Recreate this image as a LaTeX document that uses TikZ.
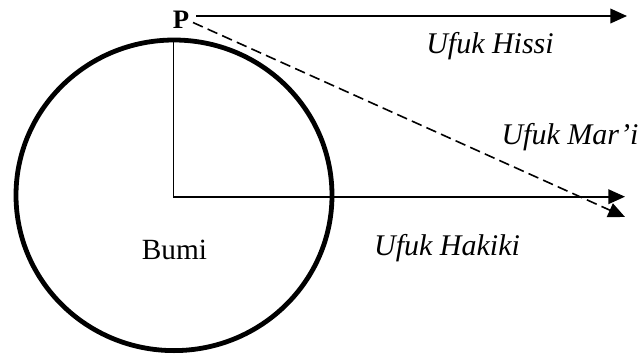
\documentclass[tikz,border=0pt]{standalone}
\usepackage{fontspec}
\setmainfont{Liberation Serif}
\usetikzlibrary{arrows.meta}
\begin{document}
\begin{tikzpicture}[x=0.75pt,y=-0.75pt,
  thinline/.style={line width=1.2pt},
  tip/.style={-{Triangle[length=12.5pt,width=11pt]}},
  lbl/.style={font=\fontsize{22.5}{24}\selectfont\itshape, inner sep=0pt},
]
\useasboundingbox (0,0) rectangle (640,354);
% Earth
\draw[line width=3.6pt] (174,195.3) ellipse [x radius=158, y radius=155.3];
\node[font=\fontsize{22}{24}\selectfont, inner sep=0pt] (bumi) at (174.5,250) {Bumi};
% points
\coordinate (O) at (173.3,196.7);
\coordinate (T) at (173.3,40);
\coordinate (HK) at (625,196.7);
\node[font=\fontsize{20}{22}\selectfont\bfseries, inner sep=0pt] (P) at (181,20) {P};
\coordinate (HSs) at (196,16);
\coordinate (HSe) at (627,16);
\coordinate (MRs) at (193,22.5);
\coordinate (MRe) at (625,217);
% lines
\draw[thinline] (T) -- (O);
\draw[thinline, tip] (O) -- (HK);
\draw[thinline, tip] (HSs) -- (HSe);
\draw[thinline, tip, dash pattern=on 8pt off 4pt] (MRs) -- (MRe);
% labels
\node[lbl] (hissi) at (490,46) {Ufuk Hissi};
\node[lbl] (mari) at (570,137) {Ufuk Mar’i};
\node[lbl] (hakiki) at (447,248) {Ufuk Hakiki};
\end{tikzpicture}
\end{document}
